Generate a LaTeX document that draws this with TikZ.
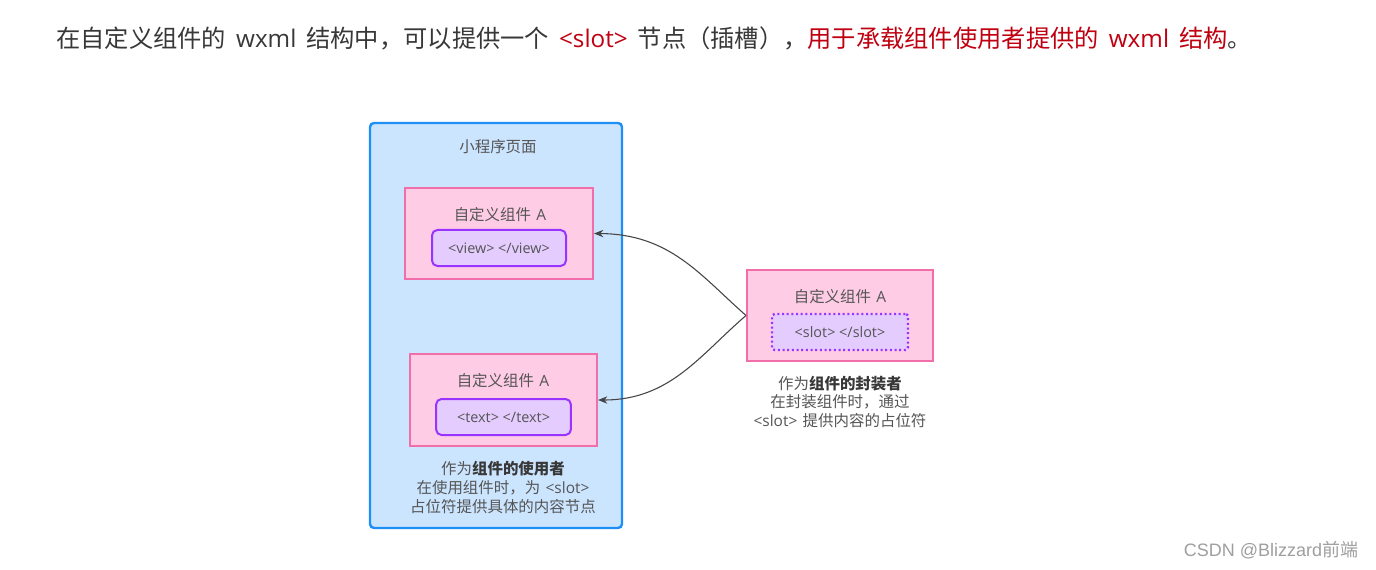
\documentclass[tikz,border=0pt]{standalone}
\usepackage{fontspec}
\setmainfont{Noto Sans CJK SC}
\newfontfamily\lat{Open Sans}
\newfontfamily\wmfont{Liberation Sans}
\newcommand\hgap{\hspace{7.5pt}}
\newcommand\sgap{\hspace{4pt}}
\usetikzlibrary{arrows.meta}
\definecolor{pagefill}{HTML}{CCE5FF}
\definecolor{pageline}{HTML}{1E8FF5}
\definecolor{compfill}{HTML}{FFCCE6}
\definecolor{compline}{HTML}{F06EAA}
\definecolor{tagfill}{HTML}{E5CCFF}
\definecolor{tagline}{HTML}{9933FF}
\definecolor{txt}{HTML}{555555}
\definecolor{head}{HTML}{383838}
\definecolor{hred}{HTML}{C00010}
\definecolor{arr}{HTML}{444444}
\begin{document}
\begin{tikzpicture}[x=0.75pt,y=-0.75pt,
  pagebox/.style={draw=pageline,fill=pagefill,line width=1.8pt,rounded corners=3pt,minimum width=189pt,minimum height=303.75pt,inner sep=0pt},
  compbox/.style={draw=compline,fill=compfill,line width=1.5pt,minimum height=68.5pt,inner sep=0pt},
  tagbox/.style={draw=tagline,fill=tagfill,line width=1.5pt,rounded corners=4pt,minimum height=27pt,inner sep=0pt,text=txt,font=\lat\fontsize{10.8pt}{12pt}\selectfont},
  lbl/.style={text=txt,font=\fontsize{11.6pt}{13pt}\selectfont,inner sep=0pt},
  conn/.style={draw=arr,line width=0.8pt,-{Stealth[length=7pt,width=5.5pt]}}]
\useasboundingbox (0,0) rectangle (1376,570);
\fill[white] (0,0) rectangle (1376,570);
% heading
\node[anchor=west,inner sep=0pt,font=\fontsize{18.2pt}{21pt}\selectfont,text=head] (head) at (56,38)
  {在自定义组件的\hgap{\lat wxml}\hgap 结构中，可以提供一个\hgap\textcolor{hred}{\lat <slot>}\hgap 节点（插槽），\textcolor{hred}{用于承载组件使用者提供的\hgap{\lat wxml}\hgap 结构}。};
% page
\node[pagebox] (page) at (496,325.5) {};
\node[lbl] (pagetitle) at (498,147) {小程序页面};
% component 1
\node[compbox,minimum width=141pt] (c1) at (499,233.5) {};
\node[lbl] (c1t) at (500,215) {自定义组件\sgap{\lat A}};
\node[tagbox,minimum width=100.5pt] (v1) at (499,248) {<view> </view>};
% component 2
\node[compbox,minimum width=140.25pt] (c2) at (503.5,400) {};
\node[lbl] (c2t) at (503,381) {自定义组件\sgap{\lat A}};
\node[tagbox,minimum width=101pt] (v2) at (503.5,417) {<text> </text>};
\node[lbl] (u1) at (503,469) {作为\textbf{\color{head}组件的使用者}};
\node[lbl] (u2) at (503,488) {在使用组件时，为\sgap{\lat <slot>}};
\node[lbl] (u3) at (503,507) {占位符提供具体的内容节点};
% component 3 (wrapper)
\node[compbox,minimum width=139.5pt] (c3) at (840,315.5) {};
\node[lbl] (c3t) at (840,297) {自定义组件\sgap{\lat A}};
\node[tagbox,dotted,line width=1.8pt,rounded corners=2pt,minimum width=102pt] (v3) at (840,332) {<slot> </slot>};
\node[lbl] (w1) at (840,384) {作为\textbf{\color{head}组件的封装者}};
\node[lbl] (w2) at (840,402) {在封装组件时，通过};
\node[lbl] (w3) at (840,421) {{\lat <slot>}\sgap 提供内容的占位符};
% connectors
\draw[conn] (c3.west) .. controls (700,275) and (670,234) .. (c1.east);
\draw[conn] (c3.west) .. controls (700,355) and (670,400) .. (c2.east);
% watermark
\node[inner sep=0pt,text=gray!75,font=\fontsize{13.5pt}{15pt}\selectfont] (wm) at (1271,550) {{\wmfont CSDN @Blizzard}前端};
\end{tikzpicture}
\end{document}
